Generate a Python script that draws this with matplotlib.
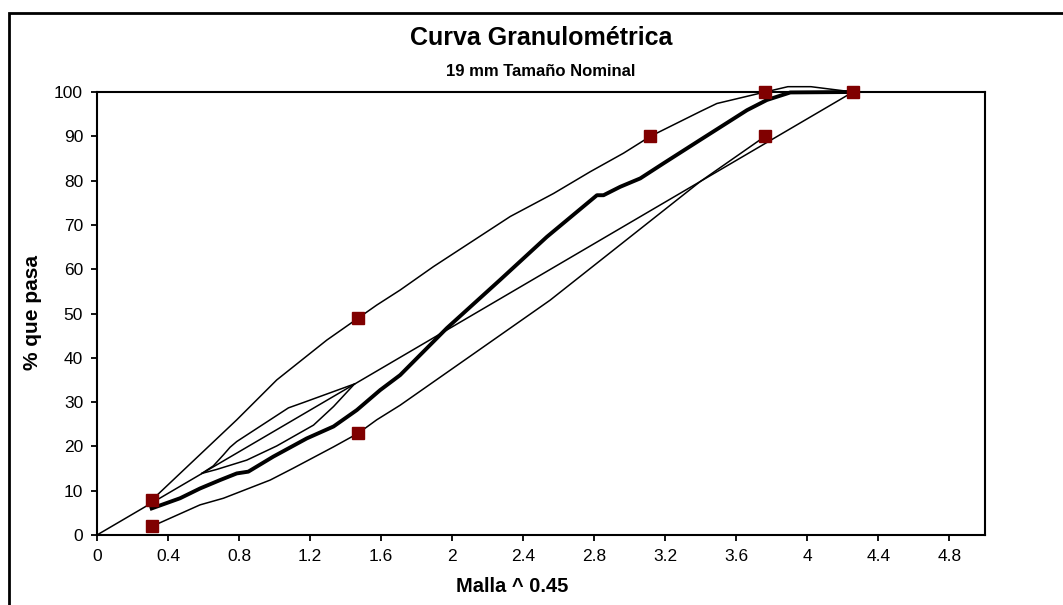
import numpy as np
import matplotlib
matplotlib.use("Agg")
import matplotlib.pyplot as plt
from matplotlib.patches import Rectangle

plt.rcParams['font.family'] = ['Liberation Sans', 'DejaVu Sans']

# Control points (sieve size in mm, % passing)
ctrl_mm = [0.075, 0.075, 2.36, 2.36, 12.5, 19, 19, 25]
ctrl_pct = [8, 2, 49, 23, 90, 100, 90, 100]

# Maximum density line
mdl_mm = [0, 25]
mdl_pct = [0, 100]

# Upper band (x already in Malla^0.45)
ub_x = [0.312, 0.787, 1.012, 1.294, 1.472, 1.575, 1.707, 1.895, 2.327, 2.571,
        2.777, 2.965, 3.116, 3.397, 3.49, 3.762, 3.89, 4.02, 4.257]
ub_y = [8, 26.0, 35.0, 44.0, 49, 51.9, 55.3, 60.6, 71.9, 77.1,
        82.0, 86.2, 90, 95.6, 97.4, 100, 101.2, 101.2, 100]

# Lower band
lb_x = [0.312, 0.58, 0.712, 0.975, 1.106, 1.332, 1.472, 1.575, 1.707, 2.124,
        2.551, 3.397, 3.762]
lb_y = [2, 6.8, 8.3, 12.4, 15.1, 19.9, 23, 26.0, 29.3, 41.0,
        53.0, 79.8, 90]

# Restricted zone
ru_x = [0.59, 0.655, 0.712, 0.749, 0.787, 1.078, 1.162, 1.45]
ru_y = [13.9, 15.6, 18.1, 19.8, 21.1, 28.7, 29.9, 34.1]
rl_x = [0.59, 0.674, 0.843, 1.012, 1.219, 1.332, 1.45]
rl_y = [13.9, 14.8, 16.9, 20.1, 24.8, 29.0, 34.1]

# Gradation curve
gr_x = [0.308, 0.468, 0.580, 0.693, 0.787, 0.852, 0.993, 1.181, 1.332, 1.463,
        1.594, 1.707, 1.970, 2.270, 2.533, 2.815, 2.852, 2.946, 3.059, 3.190,
        3.397, 3.660, 3.772, 3.904, 4.257]
gr_y = [6.0, 8.3, 10.5, 12.4, 13.9, 14.3, 17.7, 21.8, 24.5, 28.2,
        32.7, 36.1, 46.7, 57.6, 67.3, 76.7, 76.7, 78.6, 80.5, 83.9,
        89.2, 95.9, 98.2, 99.9, 100]

x_ticks = [0, 0.4, 0.8, 1.2, 1.6, 2, 2.4, 2.8, 3.2, 3.6, 4, 4.4, 4.8]
x_labels = ["0", "0.4", "0.8", "1.2", "1.6", "2", "2.4", "2.8", "3.2", "3.6", "4", "4.4", "4.8"]

W, H = 1063, 605
fig = plt.figure(figsize=(W / 100, H / 100), dpi=100)
ax = fig.add_axes([97 / W, 1 - 535 / H, (985 - 97) / W, (535 - 92) / H])

thin = dict(color='black', lw=1.1, clip_on=False, solid_joinstyle='round')
ax.plot(np.array(mdl_mm) ** 0.45, mdl_pct, **thin)
ax.plot(ub_x, ub_y, **thin)
ax.plot(lb_x, lb_y, **thin)
ax.plot(ru_x, ru_y, **thin)
ax.plot(rl_x, rl_y, **thin)
ax.plot(gr_x, gr_y, color='black', lw=2.8, clip_on=False, solid_joinstyle='round')
ax.plot(np.array(ctrl_mm) ** 0.45, ctrl_pct, ls='none', marker='s', ms=8.5,
        color='#800000', mec='#800000', clip_on=False, zorder=5)

ax.set_xlim(0, 5)
ax.set_ylim(0, 100)
ax.set_xticks(x_ticks)
ax.set_xticklabels(x_labels)
ax.set_yticks(range(0, 101, 10))
ax.tick_params(direction='out', length=4, width=1.3, labelsize=12.5, pad=6)
for s in ax.spines.values():
    s.set_linewidth(1.5)
    s.set_color('black')

fig.text(541 / W, 1 - 38 / H, "Curva Granulométrica", ha='center', va='center',
         fontsize=18, fontweight='bold')
fig.text(541 / W, 1 - 72 / H, "19 mm Tamaño Nominal", ha='center', va='center',
         fontsize=12, fontweight='bold')
fig.text(33 / W, 1 - 313 / H, "% que pasa", ha='center', va='center',
         rotation=90, fontsize=15, fontweight='bold')
fig.text(512 / W, 1 - 586 / H, "Malla ^ 0.45", ha='center', va='center',
         fontsize=14.5, fontweight='bold')

# outer chart-area frame
fig.patches.append(Rectangle((9 / W, -0.05), 1.2, 1 - 13 / H + 0.05, transform=fig.transFigure,
                             fill=False, lw=2, ec='black', clip_on=False))

fig.savefig("out.png", dpi=100)
